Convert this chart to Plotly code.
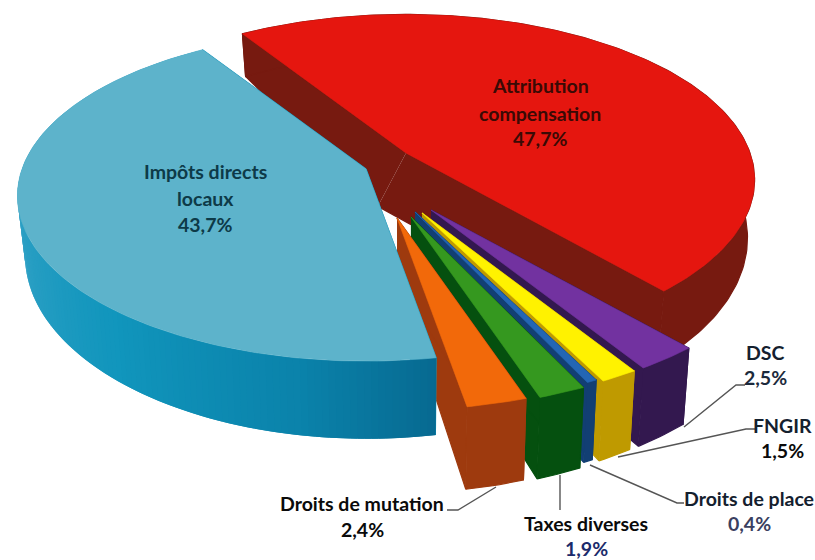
import numpy as np
import plotly.graph_objects as go

# Budget shares, counter-clockwise from the start of the first slice
categories = ["Impôts directs locaux", "Droits de mutation", "Taxes diverses",
              "Droits de place", "FNGIR", "DSC", "Attribution compensation"]
values = [43.7, 2.4, 1.9, 0.4, 1.5, 2.5, 47.7]
value_labels = ["43,7%", "2,4%", "1,9%", "0,4%", "1,5%", "2,5%", "47,7%"]

top_colors = ["#5DB3CB", "#F2690A", "#35981F", "#2466B4", "#FFF200", "#7232A0", "#E5160F"]
wall_colors = ["#0E90B8", "#9E3A0E", "#05500F", "#123F73", "#BF9A00", "#33184F", "#771A10"]

# Pie pixel geometry: pull-out of each slice from the pie centre
explode_dx = [-21, 10, 24, 28, 35, 44, 19]
explode_dy = [8, 57, 56, 51, 52, 49, -8]
centre_x, centre_y = 387, 161
radius_x, radius_y, perspective = 344, 161, 0.162
start_angle = 122.7
lean_x, lean_rate = 400, 0.02

# Hub of the last slice's floor sits off its top-face hub
floor_dx = [0, 0, 0, 0, 0, 0, -28]
floor_dy = [0, 0, 0, 0, 0, 0, -2]

# Wall shading along the arc of the first slice (angle, colour)
blue_wall_stops = [(120, (66, 168, 202)), (180, (58, 165, 200)), (230, (17, 150, 189)),
                   (260, (11, 131, 171)), (281, (7, 104, 143))]


def ground(angle_deg):
    """Project a point of the pie's rim to the page, with perspective."""
    t = np.radians(angle_deg)
    u, v = np.cos(t), np.sin(t)
    w = 1 + perspective * v
    return radius_x * u / w, -radius_y * v / w


def lowered(x, y):
    """Bottom of the extruded wall under a top-face point."""
    return x + lean_rate * (lean_x - x), y + 39 + 0.107 * y


def add_poly(fig, xs, ys, color, edge=0.6):
    fig.add_trace(go.Scatter(x=list(xs), y=list(ys), mode="lines", fill="toself",
                             fillcolor=color, line=dict(color=color, width=edge),
                             hoverinfo="skip", showlegend=False))


def shaded(angle):
    a = [s[0] for s in blue_wall_stops]
    rgb = [np.interp(angle, a, [s[1][k] for s in blue_wall_stops]) for k in range(3)]
    return "rgb(%d,%d,%d)" % tuple(rgb)


fig = go.Figure()

total = sum(values)
edges = start_angle + np.concatenate([[0], np.cumsum(values)]) * 360 / total

for i in [6, 5, 4, 3, 2, 1, 0]:
    a0, a1 = edges[i], edges[i + 1]
    ax, ay = centre_x + explode_dx[i], centre_y + explode_dy[i]
    angles = np.arange(a0, a1, 1.0).tolist() + [a1]
    pts = [ground(a) for a in angles]
    arc_x = np.array([ax + p[0] for p in pts])
    arc_y = np.array([ay + p[1] for p in pts])
    bot = [lowered(x, y) for x, y in zip(arc_x, arc_y)]
    bot_x, bot_y = np.array([b[0] for b in bot]), np.array([b[1] for b in bot])
    hub_x, hub_y = lowered(ax, ay)
    hub_x, hub_y = hub_x + floor_dx[i], hub_y + floor_dy[i]

    # radial walls, with a stroke wide enough to close the joins between faces
    add_poly(fig, [ax, arc_x[0], bot_x[0], hub_x], [ay, arc_y[0], bot_y[0], hub_y], wall_colors[i], edge=1.2)
    add_poly(fig, [ax, arc_x[-1], bot_x[-1], hub_x], [ay, arc_y[-1], bot_y[-1], hub_y], wall_colors[i], edge=1.2)

    # outer wall: one polygon, or overlapping strips where it carries a shade
    if i == 0:
        n = len(angles)
        for k in range(n - 1):
            e = min(k + 2, n - 1)
            add_poly(fig, [*arc_x[k:e + 1], *bot_x[k:e + 1][::-1]],
                     [*arc_y[k:e + 1], *bot_y[k:e + 1][::-1]], shaded(angles[k]), edge=0)
    else:
        add_poly(fig, [*arc_x, *bot_x[::-1]], [*arc_y, *bot_y[::-1]], wall_colors[i], edge=1.2)

    # top face
    add_poly(fig, [ax, *arc_x, ax], [ay, *arc_y, ay], top_colors[i])

# Leader lines from the small slices to their labels
leaders = [
    ([684, 736, 745], [427, 385, 385]),
    ([618, 746, 755], [457, 429, 429]),
    ([590, 677, 684], [465, 503, 503]),
    ([560, 560], [475, 510]),
    ([496, 458, 447], [487, 510, 510]),
]
for lx, ly in leaders:
    fig.add_trace(go.Scatter(x=lx, y=ly, mode="lines", line=dict(color="#555555", width=1.4),
                             hoverinfo="skip", showlegend=False))

# Text blocks: name lines, share, anchor and colours
text_blocks = [
    (["Attribution", "compensation"], value_labels[6], 540, [85, 113, 138], "#3A0A05", "#3A0A05"),
    (["Impôts directs", "locaux"], value_labels[0], 205, [171, 198, 224], "#0D3A48", "#0D3A48"),
    (["DSC"], value_labels[5], 765, [352, 377], "#14202E", "#1C2A3C"),
    (["FNGIR"], value_labels[4], 782, [425, 450], "#14202E", "#0A0A0A"),
    (["Droits de place"], value_labels[3], 749, [498, 523], "#14202E", "#3A4060"),
    (["Taxes diverses"], value_labels[2], 586, [523, 548], "#0A0A0A", "#1B2A6B"),
    (["Droits de mutation"], value_labels[1], 362, [503, 529], "#0A0A0A", "#0A0A0A"),
]
for names, share, tx, tys, c_name, c_share in text_blocks:
    for line, ty, col in zip(names + [share], tys, [c_name] * len(names) + [c_share]):
        fig.add_annotation(x=tx, y=ty, text=line, showarrow=False, xanchor="center", yanchor="middle",
                           font=dict(family="Lato", size=19.5, color=col, weight="bold"))

fig.update_layout(
    width=815, height=560, margin=dict(l=0, r=0, t=0, b=0),
    paper_bgcolor="white", plot_bgcolor="white", showlegend=False,
    xaxis=dict(range=[0, 815], visible=False, fixedrange=True),
    yaxis=dict(range=[560, 0], visible=False, fixedrange=True),
)
fig.write_html("out.html", config={"displayModeBar": False})
